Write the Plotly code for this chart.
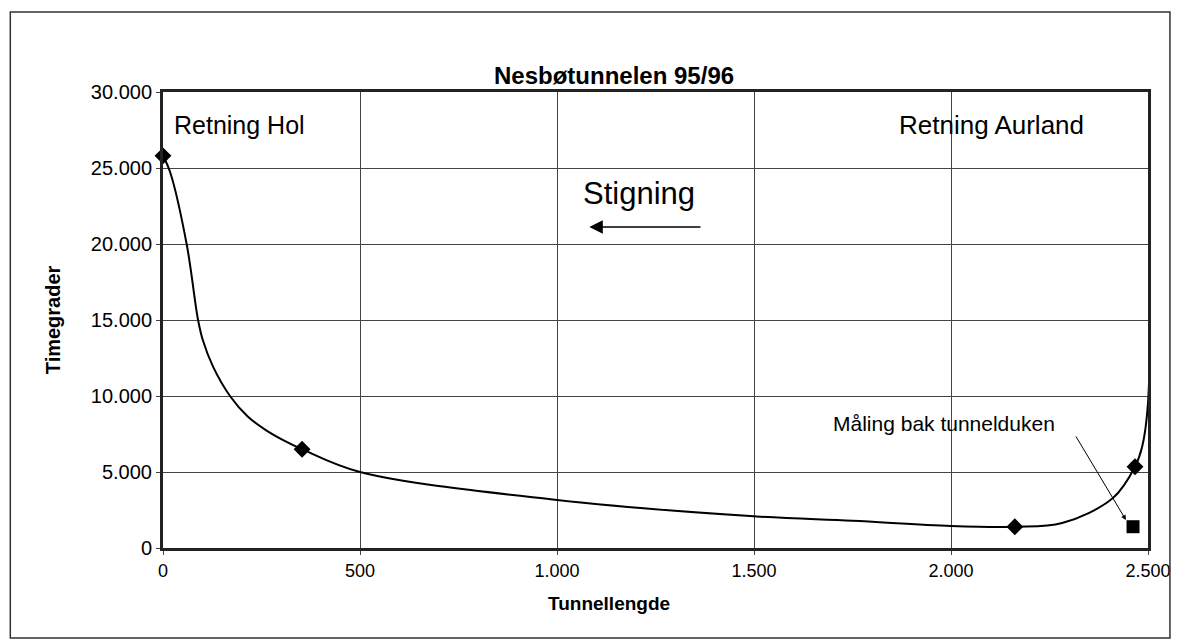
import plotly.graph_objects as go

# maalepunkter (diamanter)
punkt_x = [0, 353, 2162, 2467, 2505]
punkt_y = [25800, 6500, 1400, 5350, 23600]

# glattet kurve lest av figuren
kurve_x = [0, 18, 60, 89, 101, 127, 170, 215, 261, 305, 353, 500, 1000, 1490, 1750, 2000, 2162, 2282, 2411, 2467, 2485, 2500, 2505]
kurve_y = [25800, 24740, 20000, 15000, 13680, 11930, 10000, 8650, 7760, 7100, 6500, 5000, 3160, 2100, 1790, 1450, 1400, 1640, 3290, 5350, 6640, 9540, 23600]

# maaling bak tunnelduken
duk_x = [2462]
duk_y = [1400]

x_ticks = [0, 500, 1000, 1500, 2000, 2500]
y_ticks = [0, 5000, 10000, 15000, 20000, 25000, 30000]

fig = go.Figure()
fig.add_trace(go.Scatter(x=kurve_x, y=kurve_y, mode='lines',
                         line=dict(color='black', width=2, shape='spline', smoothing=1),
                         hoverinfo='skip', cliponaxis=False))
fig.add_trace(go.Scatter(x=punkt_x, y=punkt_y, mode='markers',
                         marker=dict(symbol='diamond', size=13, color='black'),
                         cliponaxis=False))
fig.add_trace(go.Scatter(x=duk_x, y=duk_y, mode='markers',
                         marker=dict(symbol='square', size=13, color='black'),
                         cliponaxis=False))

font = 'Liberation Sans, Arial, sans-serif'

# side-piksler -> papirkoordinater (plottflate 163..1150 x 92..548)
def px(v):
    return (v - 163) / 987

def py(v):
    return (548 - v) / 456

fig.update_layout(
    width=1175, height=635,
    margin=dict(l=155, r=33, t=84, b=95),
    paper_bgcolor='white', plot_bgcolor='white',
    showlegend=False,
    separators=',.',
    font=dict(family=font, color='black', size=18),
    annotations=[
        dict(text='<b>Nesbøtunnelen 95/96</b>', xref='paper', yref='paper',
             x=px(615), y=py(60), showarrow=False, font=dict(size=24)),
        dict(text='<b>Tunnellengde</b>', xref='paper', yref='paper',
             x=px(610), y=py(616), showarrow=False, font=dict(size=19)),
        dict(text='<b>Timegrader</b>', xref='paper', yref='paper', textangle=-90,
             x=px(53), y=py(320), xanchor='center', showarrow=False, font=dict(size=20)),
        dict(text='Retning Hol', x=23, y=27830, xanchor='left', showarrow=False, font=dict(size=25)),
        dict(text='Retning Aurland', x=1862, y=27830, xanchor='left', showarrow=False, font=dict(size=26)),
        dict(text='Stigning', x=1208, y=23355, xanchor='center', showarrow=False, font=dict(size=31)),
        dict(text='', x=1082, y=21120, ax=1368, ay=21120, axref='x', ayref='y',
             showarrow=True, arrowhead=2, arrowsize=1.8, arrowwidth=1.5, arrowcolor='black'),
        dict(text='Måling bak tunnelduken', x=1983, y=8224, xanchor='center', showarrow=False, font=dict(size=21)),
        dict(text='', x=2444, y=1842, ax=2315, ay=7434, axref='x', ayref='y',
             showarrow=True, arrowhead=2, arrowsize=1, arrowwidth=1, arrowcolor='black'),
    ],
    shapes=[
        dict(type='rect', xref='paper', yref='paper',
             x0=px(10), x1=px(1172), y0=py(638), y1=py(12),
             line=dict(color='#333', width=1.5)),
    ],
)

fig.update_xaxes(range=[0, 2500], tickvals=x_ticks, tickformat=',d',
                 showgrid=True, gridcolor='#444', gridwidth=1,
                 showline=True, linecolor='#222', linewidth=3, mirror=True,
                 ticks='outside', ticklen=4, tickcolor='#444', zeroline=False,
                 tickfont=dict(size=18))
fig.update_yaxes(range=[0, 30000], tickvals=y_ticks, tickformat=',d',
                 showgrid=True, gridcolor='#444', gridwidth=1,
                 showline=True, linecolor='#222', linewidth=3, mirror=True,
                 ticks='outside', ticklen=4, tickcolor='#444', zeroline=False,
                 tickfont=dict(size=20))

fig.write_html("out.html")
